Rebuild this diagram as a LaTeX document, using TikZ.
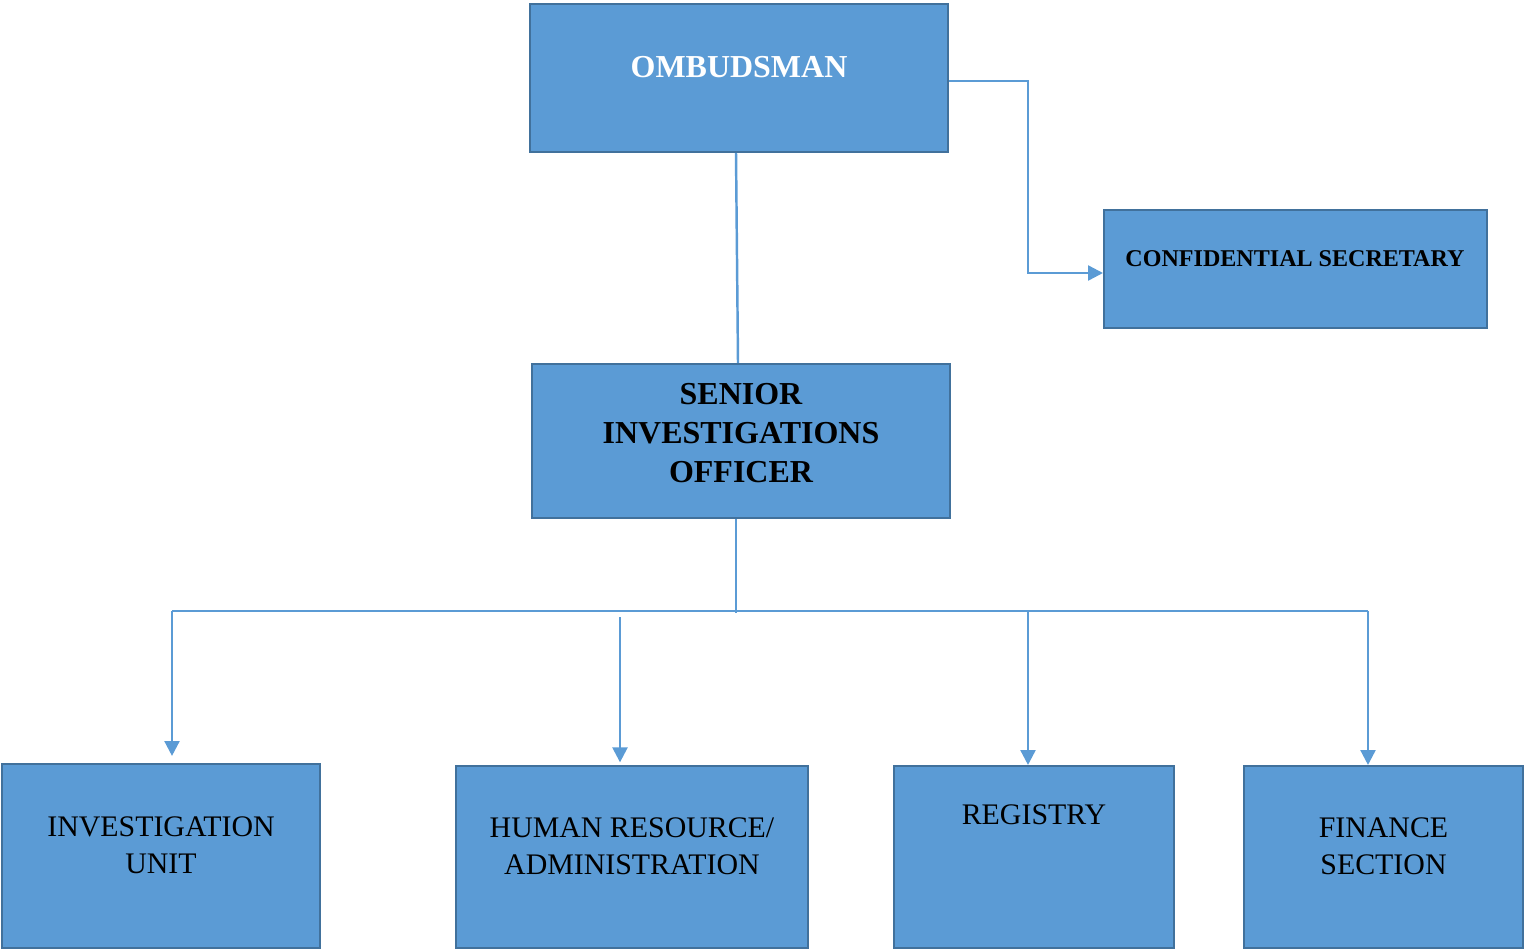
\documentclass[tikz,border=0pt]{standalone}
\usepackage{fontspec}
\setmainfont{Liberation Serif}
\usetikzlibrary{arrows.meta}
\definecolor{boxfill}{HTML}{5B9BD5}
\definecolor{boxline}{HTML}{41719C}
\definecolor{connline}{HTML}{5B9BD5}
\tikzset{
  orgbox/.style={draw=boxline, fill=boxfill, line width=1.2pt, inner sep=0pt},
  lbl/.style={inner sep=0pt, align=center},
  boldlbl/.style={lbl, font=\bfseries\fontsize{18.2}{22.4}\selectfont},
  smallbold/.style={lbl, font=\bfseries\fontsize{13.7}{16}\selectfont},
  plainlbl/.style={lbl, font=\fontsize{17}{21}\selectfont},
  conn/.style={draw=connline, line width=1.4pt},
  thinconn/.style={draw=connline, line width=0.7pt},
  tip/.style={-{Triangle[length=8.5pt,width=8.5pt]}}
}
\begin{document}
\begin{tikzpicture}[x=0.02cm,y=-0.02cm]
\useasboundingbox (0,0) rectangle (1524,950);
% boxes
\node[orgbox, minimum width=8.36cm, minimum height=2.96cm] (omb) at (739,78) {};
\node[orgbox, minimum width=7.66cm, minimum height=2.36cm] (conf) at (1295.5,269) {};
\node[orgbox, minimum width=8.36cm, minimum height=3.08cm] (sio) at (741,441) {};
\node[orgbox, minimum width=6.36cm, minimum height=3.68cm] (inv) at (161,856) {};
\node[orgbox, minimum width=7.04cm, minimum height=3.64cm] (hr) at (632,857) {};
\node[orgbox, minimum width=5.60cm, minimum height=3.64cm] (reg) at (1034,857) {};
\node[orgbox, minimum width=5.58cm, minimum height=3.64cm] (fin) at (1383.5,857) {};
% labels
\node[boldlbl, text=white] (ombt) at (739,67) {OMBUDSMAN};
\node[smallbold] (conft) at (1295,259) {CONFIDENTIAL SECRETARY};
\node[boldlbl] (siot) at (741,433) {SENIOR\\INVESTIGATIONS\\OFFICER};
\node[plainlbl] (invt) at (161,845) {INVESTIGATION\\UNIT};
\node[plainlbl] (hrt) at (632,846) {HUMAN RESOURCE/\\ADMINISTRATION};
\node[plainlbl] (regt) at (1034,815) {REGISTRY};
\node[plainlbl] (fint) at (1383.5,846) {FINANCE\\SECTION};
% junction coordinates
\coordinate (cbend1) at (1028,81);
\coordinate (cbend2) at (1028,273);
\coordinate (bus) at (736,611);
\coordinate (busl) at (172,611);
\coordinate (busr) at (1368,611);
\coordinate (hrtop) at (620,617);
\coordinate (regtop) at (1028,611);
% connectors
\draw[conn] (omb.south -| 736,0) -- (sio.north -| 738,0);
\draw[conn, tip] (omb.east |- cbend1) -- (cbend1) -- (cbend2) -- (conf.west |- cbend2);
\draw[thinconn] (sio.south -| bus) -- ([yshift=-1pt]bus);
\draw[thinconn] (busl) -- (busr);
\draw[conn, tip, shorten >=4pt] (busl) -- (inv.north -| busl);
\draw[conn, tip, shorten >=1.5pt] (hrtop) -- (hr.north -| hrtop);
\draw[conn, tip] (regtop) -- (reg.north -| regtop);
\draw[conn, tip] (busr) -- (fin.north -| busr);
\end{tikzpicture}
\end{document}
